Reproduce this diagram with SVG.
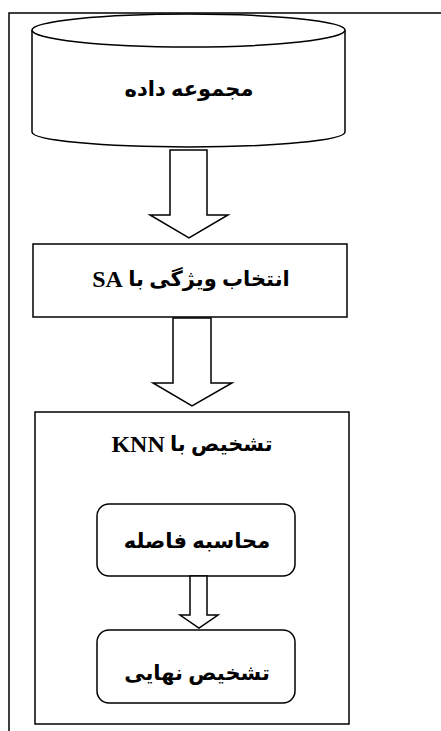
<svg xmlns="http://www.w3.org/2000/svg" width="441" height="731" viewBox="0 0 441 731">
<style>
.s{fill:#fff;stroke:#000;stroke-width:1.5}
.t{font-family:"Liberation Serif","DejaVu Sans",serif;font-weight:bold;font-size:21px;fill:#000;text-anchor:middle;dominant-baseline:central}
.l{font-size:24px}
</style>
<rect width="441" height="731" fill="#fff"/>
<path d="M9,731 V13 H441" fill="none" stroke="#000" stroke-width="1.5"/>
<g id="dataset">
<path class="s" d="M32,30 V132 A156.5,15 0 0 0 345,132 V30 A156.5,16 0 0 0 32,30 Z"/>
<path class="s" fill="none" d="M32,30 A156.5,17 0 0 0 345,30"/>
<text class="t" x="189" y="89" direction="rtl">مجموعه داده</text>
</g>
<g id="feature-select">
<rect class="s" x="33" y="244" width="314" height="73"/>
<text class="t" x="191" y="279" direction="rtl">انتخاب ویژگی با <tspan class="l">SA</tspan></text>
</g>
<g id="knn">
<rect class="s" x="35" y="412" width="314" height="312"/>
<text class="t" x="192" y="444" direction="rtl">تشخیص با <tspan class="l">KNN</tspan></text>
</g>
<g id="distance">
<rect class="s" x="97" y="504" width="198" height="72" rx="12"/>
<text class="t" x="197" y="541" direction="rtl">محاسبه فاصله</text>
</g>
<g id="final">
<rect class="s" x="97" y="630" width="198" height="73" rx="12"/>
<text class="t" x="197" y="673" direction="rtl">تشخیص نهایی</text>
</g>
<g id="connectors">
<path class="s" d="M170,150 H207 V215 H228 L189,238 L150,215 H170 Z"/>
<path class="s" d="M173,318 H211 V383 H232 L192,406 L153,383 H173 Z"/>
<path class="s" d="M190,576 H207 V615 H218 L199,628 L180,615 H190 Z"/>
</g>
</svg>
